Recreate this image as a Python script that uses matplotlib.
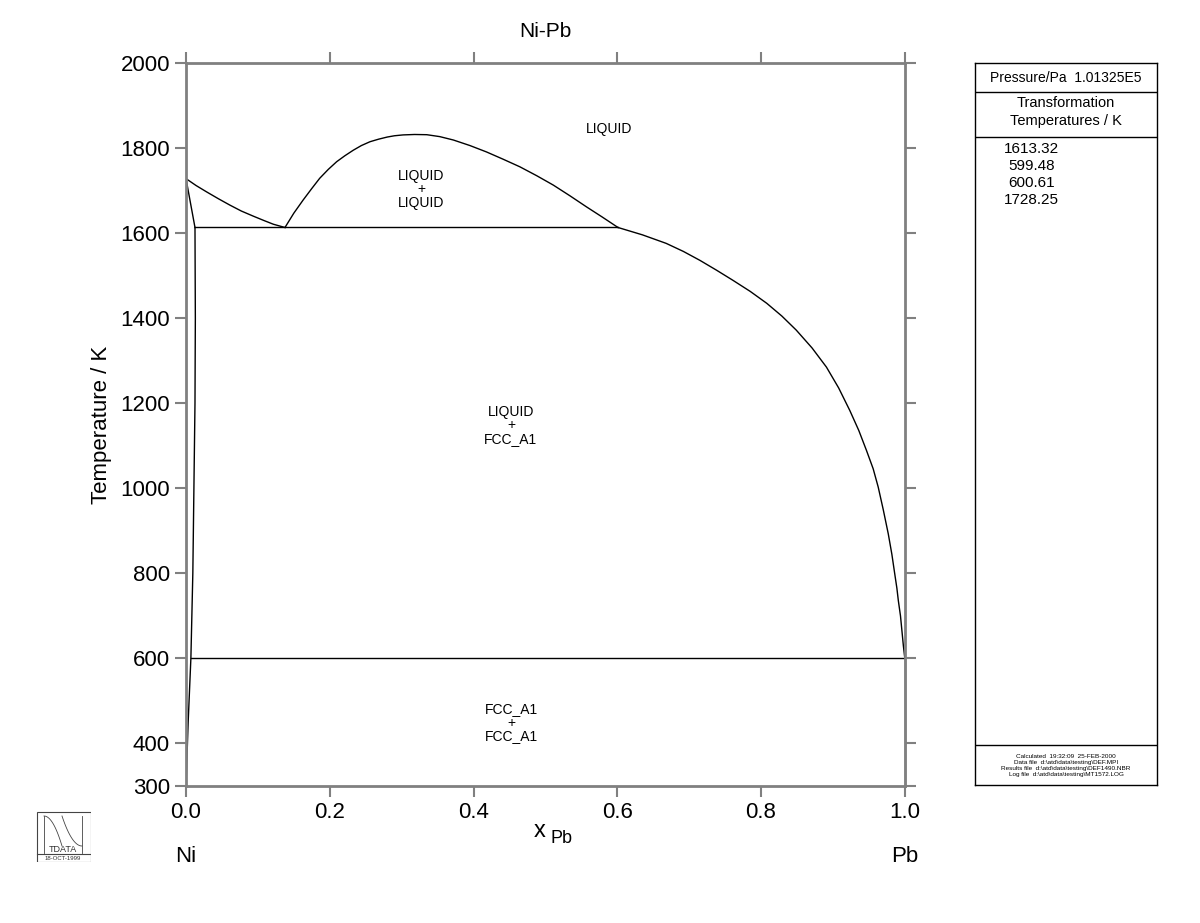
import matplotlib
matplotlib.use("Agg")
import matplotlib.pyplot as plt
from matplotlib.patches import Rectangle
import numpy as np

plt.rcParams['font.family'] = ['Liberation Sans', 'DejaVu Sans']

# ---- data ----
# Ni-rich liquidus
liq_ni_x = [0.0, 0.014, 0.0287, 0.045, 0.061, 0.077, 0.0936, 0.108, 0.1215, 0.1377]
liq_ni_T = [1728.25, 1712, 1697, 1681, 1666, 1652, 1640, 1630, 1621, 1613.32]
# Liquid miscibility gap (dome)
dome_x = [0.1377, 0.150, 0.163, 0.175, 0.186, 0.198, 0.2096, 0.221, 0.2327, 0.244,
          0.256, 0.268, 0.28, 0.29, 0.302, 0.318, 0.335, 0.353, 0.372, 0.395,
          0.418, 0.441, 0.4645, 0.488, 0.511, 0.534, 0.557, 0.579, 0.601]
dome_T = [1613.32, 1647, 1678, 1705, 1729, 1750, 1768, 1782, 1795, 1806,
          1815, 1821, 1826, 1829, 1831, 1832, 1831.5, 1827, 1819, 1806,
          1791, 1774, 1756, 1735, 1713, 1688, 1662, 1638, 1613.32]
# Pb-rich liquidus
liq_pb_x = [0.601, 0.635, 0.668, 0.692, 0.715, 0.738, 0.761, 0.785, 0.808, 0.829,
            0.849, 0.871, 0.891, 0.908, 0.9235, 0.936, 0.9467, 0.956, 0.963, 0.970,
            0.977, 0.982, 0.986, 0.989, 0.991, 0.994, 0.996, 0.998, 1.0]
liq_pb_T = [1613.32, 1596, 1576, 1557, 1536, 1513, 1489, 1463, 1435, 1405,
            1372, 1330, 1285, 1236, 1183, 1136, 1089, 1046, 1003, 950,
            893, 845, 799, 765, 736, 700, 665, 630, 600.61]
# Ni-rich solidus / solvus
sol_ni_x = [0.0, 0.0125]
sol_ni_T = [1728.25, 1613.32]
solv_ni_x = [0.0125, 0.013, 0.0125, 0.011, 0.0095, 0.0068, 0.003, 0.0]
solv_ni_T = [1613.32, 1400, 1200, 1000, 800, 600.61, 450, 300]
# Pb-rich solvus
solv_pb_x = [1.0, 1.0]
solv_pb_T = [600.61, 300]
# invariants
inv_T = [1613.32, 600.61]
inv_x0 = [0.0125, 0.0068]
inv_x1 = [0.601, 1.0]

labels = ["LIQUID", "LIQUID\n+\nLIQUID", "LIQUID\n+\nFCC_A1", "FCC_A1\n+\nFCC_A1"]
label_x = [0.588, 0.327, 0.452, 0.453]
label_T = [1845, 1703, 1148, 449]

xticks = [0.0, 0.2, 0.4, 0.6, 0.8, 1.0]
yticks = [300, 400, 600, 800, 1000, 1200, 1400, 1600, 1800, 2000]

trans_temps = ["1613.32", "599.48", "600.61", "1728.25"]
footer = ["Calculated  19:32:09  25-FEB-2000",
          "Data file  d:\\atd\\data\\testing\\DEF.MPI",
          "Results file  d:\\atd\\data\\testing\\DEF1490.NBR",
          "Log file  d:\\atd\\data\\testing\\MT1572.LOG"]

# ---- figure ----
fig = plt.figure(figsize=(12, 9.23), dpi=100)
ax = fig.add_axes([0.155, 0.1484, 0.599, 0.7833])
grey = '#808080'
lc = 'black'
lw = 1.0
ax.plot(liq_ni_x, liq_ni_T, color=lc, lw=lw)
ax.plot(dome_x, dome_T, color=lc, lw=lw)
ax.plot(liq_pb_x, liq_pb_T, color=lc, lw=lw)
ax.plot(sol_ni_x, sol_ni_T, color=lc, lw=lw)
ax.plot(solv_ni_x, solv_ni_T, color=lc, lw=lw)
ax.plot(solv_pb_x, solv_pb_T, color=lc, lw=lw, clip_on=False)
for T, a, b in zip(inv_T, inv_x0, inv_x1):
    ax.plot([a, b], [T, T], color=lc, lw=lw)

for s, x, T in zip(labels, label_x, label_T):
    ax.text(x, T, s, ha='center', va='center', fontsize=10, linespacing=0.95)

ax.set_xlim(0, 1)
ax.set_ylim(300, 2000)
ax.set_xticks(xticks)
ax.set_xticklabels([f"{v:.1f}" for v in xticks])
ax.set_yticks(yticks)
ax.set_yticklabels([str(v) for v in yticks])
for sp in ax.spines.values():
    sp.set_color(grey)
    sp.set_linewidth(2)
ax.tick_params(axis='both', which='both', direction='out', length=8, width=1.5,
               color=grey, labelsize=16, top=True, right=True,
               labeltop=False, labelright=False)
ax.set_ylabel("Temperature / K", fontsize=16, labelpad=6)
ax.set_title("Ni-Pb", fontsize=15, pad=19)

fig.text(0.45, 0.0935, "x", fontsize=17, ha='center', va='baseline')
fig.text(0.468, 0.0865, "Pb", fontsize=13, ha='center', va='baseline')
fig.text(0.155, 0.066, "Ni", fontsize=16, ha='center', va='baseline')
fig.text(0.754, 0.066, "Pb", fontsize=16, ha='center', va='baseline')

# ---- right panel ----
pax = fig.add_axes([0.8125, 0.1495, 0.1517, 0.7822])
pax.set_xlim(0, 1)
pax.set_ylim(785, 63)
pax.set_xticks([])
pax.set_yticks([])
for sp in pax.spines.values():
    sp.set_color('black')
    sp.set_linewidth(1)
for yy in [92, 137, 745]:
    pax.axhline(yy, color='black', lw=1)
pax.text(0.5, 77.5, "Pressure/Pa  1.01325E5", ha='center', va='center', fontsize=10)
pax.text(0.5, 103, "Transformation", ha='center', va='center', fontsize=10.5)
pax.text(0.5, 121, "Temperatures / K", ha='center', va='center', fontsize=10.5)
for i, t in enumerate(trans_temps):
    pax.text(0.31, 149 + 17 * i, t, ha='center', va='center', fontsize=11)
for i, t in enumerate(footer):
    pax.text(0.5, 756 + 6.3 * i, t, ha='center', va='center', fontsize=4.6)

# ---- logo ----
lax = fig.add_axes([36 / 1200, 1 - 862 / 923, 55 / 1200, 51 / 923])
lax.set_xlim(0, 55)
lax.set_ylim(51, 0)
lax.axis('off')
lax.add_patch(Rectangle((0.5, 0.5), 54, 50, fill=False, edgecolor='#444444', lw=0.8))
lax.plot([0.5, 54.5], [43, 43], color='#444444', lw=0.8)
tt = np.linspace(0, 1, 30)
lax.plot(8 + 18 * tt, 5 + 30 * tt ** 2, color='#444444', lw=0.6)
lax.plot(26 + 20 * tt, 35 - 30 * (1 - tt) ** 2, color='#444444', lw=0.6)
lax.plot([8, 8], [5, 42], color='#444444', lw=0.6)
lax.plot([46, 46], [5, 42], color='#444444', lw=0.6)
lax.text(27, 38, "TDATA", ha='center', va='center', fontsize=6.5, color='#333333')
lax.text(27, 47.5, "18-OCT-1999", ha='center', va='center', fontsize=4.3, color='#333333')

fig.savefig("out.png", dpi=100)
